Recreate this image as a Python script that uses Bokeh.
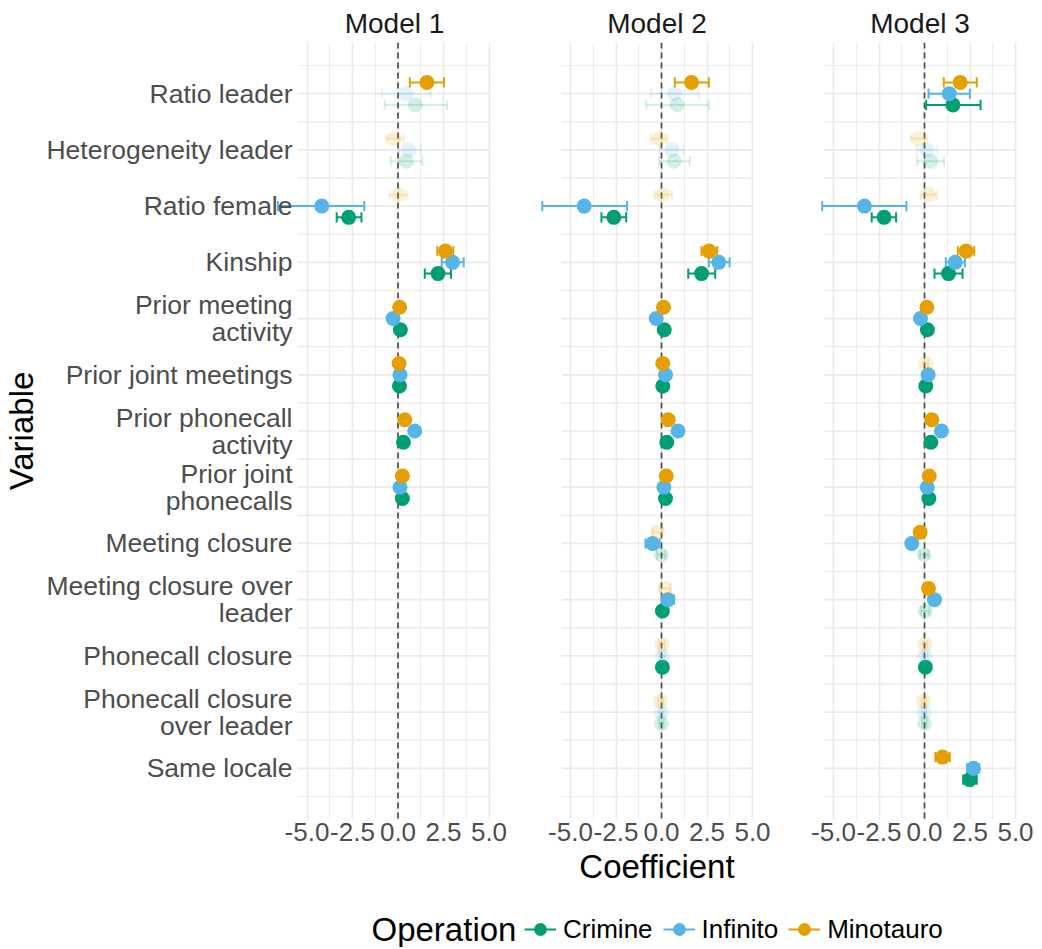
import math
from bokeh.plotting import figure
from bokeh.models import (ColumnDataSource, FactorRange, Range1d, FixedTicker,
                          PrintfTickFormatter, Span, Legend, LegendItem, Label)
from bokeh.transform import dodge
from bokeh.layouts import row, column
from bokeh.embed import file_html
from bokeh.resources import INLINE

# ---------------- data ----------------
variables = ["Ratio leader", "Heterogeneity leader", "Ratio female", "Kinship",
             "Prior meeting\nactivity", "Prior joint meetings",
             "Prior phonecall\nactivity", "Prior joint\nphonecalls",
             "Meeting closure", "Meeting closure over\nleader",
             "Phonecall closure", "Phonecall closure\nover leader", "Same locale"]
models = ["Model 1", "Model 2", "Model 3"]
operations = ["Crimine", "Infinito", "Minotauro"]
x_ticks = [-5.0, -2.5, 0.0, 2.5, 5.0]
x_minor = [-3.75, -1.25, 1.25, 3.75]
N = None

# Model 1
m1_crimine_est = [0.95, 0.46, -2.71, 2.20, 0.13, 0.08, 0.30, 0.24, N, N, N, N, N]
m1_crimine_lo = [-0.73, -0.40, -3.37, 1.47, 0.03, 0.01, 0.18, 0.12, N, N, N, N, N]
m1_crimine_hi = [2.69, 1.34, -2.01, 2.91, 0.23, 0.15, 0.42, 0.36, N, N, N, N, N]
m1_crimine_sig = [0, 0, 1, 1, 1, 1, 1, 1, 0, 0, 0, 0, 0]
m1_infinito_est = [0.46, 0.59, -4.19, 3.00, -0.27, 0.11, 0.92, 0.11, N, N, N, N, N]
m1_infinito_lo = [-0.88, 0.02, -6.60, 2.40, -0.40, 0.02, 0.78, 0.02, N, N, N, N, N]
m1_infinito_hi = [1.80, 1.25, -1.85, 3.61, -0.14, 0.20, 1.06, 0.20, N, N, N, N, N]
m1_infinito_sig = [0, 0, 1, 1, 1, 1, 1, 1, 0, 0, 0, 0, 0]
m1_minotauro_est = [1.59, -0.20, 0.04, 2.60, 0.09, 0.06, 0.37, 0.24, N, N, N, N, N]
m1_minotauro_lo = [0.65, -0.64, -0.44, 2.16, 0.00, -0.02, 0.25, 0.13, N, N, N, N, N]
m1_minotauro_hi = [2.53, 0.31, 0.53, 3.04, 0.18, 0.14, 0.49, 0.35, N, N, N, N, N]
m1_minotauro_sig = [1, 0, 0, 1, 1, 1, 1, 1, 0, 0, 0, 0, 0]

# Model 2
m2_crimine_est = [0.86, 0.70, -2.62, 2.20, 0.15, 0.07, 0.29, 0.22, -0.02, 0.05, 0.05, 0.00, N]
m2_crimine_lo = [-0.84, -0.13, -3.30, 1.47, 0.05, 0.00, 0.17, 0.11, -0.25, 0.02, 0.02, -0.12, N]
m2_crimine_hi = [2.60, 1.56, -1.94, 2.95, 0.25, 0.14, 0.41, 0.33, 0.21, 0.08, 0.08, 0.12, N]
m2_crimine_sig = [0, 0, 1, 1, 1, 1, 1, 1, 0, 1, 1, 0, 0]
m2_infinito_est = [0.71, 0.57, -4.25, 3.15, -0.29, 0.22, 0.91, 0.13, -0.49, 0.35, 0.04, 0.00, N]
m2_infinito_lo = [-0.59, -0.10, -6.55, 2.60, -0.42, 0.10, 0.78, 0.02, -0.88, 0.01, -0.10, -0.12, N]
m2_infinito_hi = [2.05, 1.23, -1.89, 3.74, -0.16, 0.34, 1.04, 0.24, -0.10, 0.69, 0.18, 0.12, N]
m2_infinito_sig = [0, 0, 1, 1, 1, 1, 1, 1, 1, 1, 0, 0, 0]
m2_minotauro_est = [1.65, -0.13, 0.07, 2.62, 0.11, 0.07, 0.37, 0.26, -0.22, 0.20, 0.02, -0.04, N]
m2_minotauro_lo = [0.73, -0.60, -0.38, 2.20, 0.02, -0.01, 0.26, 0.16, -0.50, -0.08, -0.14, -0.18, N]
m2_minotauro_hi = [2.60, 0.33, 0.57, 3.06, 0.20, 0.15, 0.48, 0.36, 0.06, 0.48, 0.18, 0.10, N]
m2_minotauro_sig = [1, 0, 0, 1, 1, 1, 1, 1, 0, 0, 0, 0, 0]

# Model 3
m3_crimine_est = [1.56, 0.35, -2.22, 1.32, 0.16, 0.07, 0.35, 0.24, -0.02, 0.04, 0.05, 0.00, 2.49]
m3_crimine_lo = [0.09, -0.40, -2.90, 0.55, 0.05, 0.00, 0.23, 0.13, -0.25, -0.18, 0.02, -0.12, 2.13]
m3_crimine_hi = [3.08, 1.08, -1.56, 2.09, 0.27, 0.14, 0.47, 0.35, 0.21, 0.26, 0.08, 0.12, 2.87]
m3_crimine_sig = [1, 0, 1, 1, 1, 1, 1, 1, 0, 0, 1, 0, 1]
m3_infinito_est = [1.36, 0.13, -3.30, 1.69, -0.22, 0.20, 0.93, 0.15, -0.70, 0.55, 0.04, -0.02, 2.69]
m3_infinito_lo = [0.22, -0.42, -5.62, 1.17, -0.35, 0.08, 0.80, 0.04, -0.95, 0.35, -0.10, -0.14, 2.34]
m3_infinito_hi = [2.49, 0.71, -0.99, 2.22, -0.09, 0.32, 1.06, 0.26, -0.45, 0.75, 0.18, 0.10, 3.00]
m3_infinito_sig = [1, 0, 1, 1, 1, 1, 1, 1, 1, 1, 0, 0, 1]
m3_minotauro_est = [1.96, -0.31, 0.24, 2.29, 0.13, 0.07, 0.40, 0.26, -0.24, 0.22, 0.02, -0.04, 0.99]
m3_minotauro_lo = [1.06, -0.75, -0.20, 1.83, 0.03, -0.05, 0.28, 0.15, -0.36, 0.10, -0.12, -0.16, 0.60]
m3_minotauro_hi = [2.87, 0.16, 0.70, 2.73, 0.23, 0.19, 0.52, 0.37, -0.12, 0.34, 0.16, 0.08, 1.39]
m3_minotauro_sig = [1, 0, 0, 1, 1, 0, 1, 1, 1, 1, 0, 0, 1]

table = {
    "Model 1": {"Crimine": (m1_crimine_est, m1_crimine_lo, m1_crimine_hi, m1_crimine_sig),
                "Infinito": (m1_infinito_est, m1_infinito_lo, m1_infinito_hi, m1_infinito_sig),
                "Minotauro": (m1_minotauro_est, m1_minotauro_lo, m1_minotauro_hi, m1_minotauro_sig)},
    "Model 2": {"Crimine": (m2_crimine_est, m2_crimine_lo, m2_crimine_hi, m2_crimine_sig),
                "Infinito": (m2_infinito_est, m2_infinito_lo, m2_infinito_hi, m2_infinito_sig),
                "Minotauro": (m2_minotauro_est, m2_minotauro_lo, m2_minotauro_hi, m2_minotauro_sig)},
    "Model 3": {"Crimine": (m3_crimine_est, m3_crimine_lo, m3_crimine_hi, m3_crimine_sig),
                "Infinito": (m3_infinito_est, m3_infinito_lo, m3_infinito_hi, m3_infinito_sig),
                "Minotauro": (m3_minotauro_est, m3_minotauro_lo, m3_minotauro_hi, m3_minotauro_sig)},
}

# ---------------- style ----------------
FONT = "Liberation Sans"
COLORS = {"Crimine": "#009E73", "Infinito": "#56B4E9", "Minotauro": "#E69F00"}
OFFSETS = {"Crimine": -0.2, "Infinito": 0.0, "Minotauro": 0.2}
FAINT = 0.17
CAP = 0.09
SCALE = 18.2          # px per coefficient unit
PANEL_LO, PANEL_HI = -5.5, 5.0
GRID = "#EBEBEB"
FRAME_TOP_BORDER = 42
FRAME_H = 777
BOTTOM_BORDER = 80

# (frame_left, frame_right, zero_px, border_left, border_right) in layout px
# frames are centred on the panel centre (-0.25) so that the titles sit above it
geom = {
    "Model 1": (280, 516, 401.5, 272, 0),
    "Model 2": (540, 781, 665.0, 24, 0),
    "Model 3": (823, 1024, 928.0, 42, 16),
}


def make_panel(model, first, with_xlabel):
    fl, fr, z, bl, br = geom[model]
    xr = Range1d(-(z - fl) / SCALE, (fr - z) / SCALE)
    yr = FactorRange(factors=list(reversed(variables)), range_padding=0.41,
                     range_padding_units="absolute")
    kw = {} if first else {"y_axis_location": None}
    p = figure(x_range=xr, y_range=yr, frame_width=fr - fl, frame_height=FRAME_H,
               min_border_left=bl, min_border_right=br, min_border_top=FRAME_TOP_BORDER,
               min_border_bottom=BOTTOM_BORDER, output_backend="svg",
               toolbar_location=None, title=model, **kw)
    p.outline_line_color = None
    p.background_fill_color = "white"
    p.border_fill_color = "white"
    p.title.text_font = FONT
    p.title.text_font_size = "28px"
    p.title.text_font_style = "normal"
    p.title.text_color = "#1A1A1A"
    p.title.align = "center"
    p.title.standoff = 8

    ticker = FixedTicker(ticks=x_ticks, minor_ticks=x_minor)
    ax = p.xaxis[0]
    ax.ticker = ticker
    ax.formatter = PrintfTickFormatter(format="%.1f")
    ax.axis_line_color = None
    ax.major_tick_line_color = None
    ax.minor_tick_line_color = None
    ax.major_tick_out = 0
    ax.minor_tick_out = 0
    ax.major_label_standoff = 3
    ax.major_label_text_font = FONT
    ax.major_label_text_font_size = "26px"
    ax.major_label_text_color = "#4D4D4D"
    if with_xlabel:
        ax.axis_label = "Coefficient"
        ax.axis_label_text_font = FONT
        ax.axis_label_text_font_size = "33px"
        ax.axis_label_text_font_style = "normal"
        ax.axis_label_text_color = "#000000"
        ax.axis_label_standoff = 4

    if first:
        ay = p.yaxis[0]
        ay.axis_line_color = None
        ay.major_tick_line_color = None
        ay.major_tick_out = 0
        ay.major_tick_in = 0
        ay.major_label_standoff = -16
        ay.major_label_text_font = FONT
        ay.major_label_text_font_size = "26.5px"
        ay.major_label_text_color = "#4D4D4D"
        ay.major_label_text_line_height = 0.9
        ay.axis_label = "Variable"
        ay.axis_label_text_font = FONT
        ay.axis_label_text_font_size = "33px"
        ay.axis_label_text_font_style = "normal"
        ay.axis_label_text_color = "#000000"
        ay.axis_label_standoff = 3

    g = p.xgrid[0]
    g.ticker = ticker
    g.grid_line_color = GRID
    g.grid_line_width = 1.7
    g.minor_grid_line_color = GRID
    g.minor_grid_line_width = 0.9
    p.ygrid.visible = False

    gsrc = ColumnDataSource(dict(var=variables))
    for off, w in ((0.0, 1.7), (-0.5, 0.9), (0.5, 0.9)):
        yy = dodge("var", off, range=yr)
        p.segment(x0=PANEL_LO, x1=PANEL_HI, y0=yy, y1=yy, source=gsrc,
                  line_color=GRID, line_width=w, level="underlay")

    p.add_layout(Span(location=0, dimension="height", line_color="#4D4D4D",
                      line_width=1.7, line_dash="6 4", level="underlay"))

    srcs = {}
    for op in operations:
        est, lo, hi, sig = table[model][op]
        keep = [i for i, e in enumerate(est) if e is not None]
        srcs[op] = ColumnDataSource(dict(
            var=[variables[i] for i in keep],
            est=[est[i] for i in keep],
            lo=[lo[i] for i in keep],
            hi=[hi[i] for i in keep],
            alpha=[1.0 if sig[i] else FAINT for i in keep],
        ))

    for op in operations:
        s, c, off = srcs[op], COLORS[op], OFFSETS[op]
        ym = dodge("var", off, range=yr)
        y0 = dodge("var", off - CAP, range=yr)
        y1 = dodge("var", off + CAP, range=yr)
        p.segment(x0="lo", x1="hi", y0=ym, y1=ym, source=s, line_color=c,
                  line_alpha="alpha", line_width=2)
        p.segment(x0="lo", x1="lo", y0=y0, y1=y1, source=s, line_color=c,
                  line_alpha="alpha", line_width=2)
        p.segment(x0="hi", x1="hi", y0=y0, y1=y1, source=s, line_color=c,
                  line_alpha="alpha", line_width=2)
    for op in operations:
        s, c, off = srcs[op], COLORS[op], OFFSETS[op]
        p.scatter(x="est", y=dodge("var", off, range=yr), source=s, size=15,
                  fill_color=c, fill_alpha="alpha", line_color=None)
    return p


p1 = make_panel("Model 1", True, False)
p2 = make_panel("Model 2", False, True)
p3 = make_panel("Model 3", False, False)

# ---------------- legend ----------------
LW, LH = 1016, 48
pleg = figure(width=LW, height=LH, x_range=Range1d(0, LW), y_range=Range1d(0, LH),
              x_axis_location=None, y_axis_location=None, min_border=0,
              toolbar_location=None, output_backend="svg")
pleg.outline_line_color = None
pleg.grid.visible = False
items = []
for op in operations:
    # legend proxies: one undrawn (NaN) record so the legend key is rendered
    seg = pleg.segment(x0=[math.nan], y0=[math.nan], x1=[math.nan], y1=[math.nan],
                       line_color=COLORS[op], line_width=2)
    dot = pleg.scatter(x=[math.nan], y=[math.nan], size=15, fill_color=COLORS[op],
                       line_color=None)
    items.append(LegendItem(label=op, renderers=[seg, dot]))
leg = Legend(items=items, location=(524, 2), orientation="horizontal",
             glyph_width=32, glyph_height=32, label_standoff=7, spacing=10,
             padding=0, margin=0, label_text_font=FONT, label_text_font_size="26px",
             label_text_color="#000000", background_fill_alpha=0,
             border_line_color=None)
pleg.add_layout(leg)
pleg.add_layout(Label(x=371, y=18, text="Operation", text_font=FONT,
                      text_font_size="33px", text_baseline="middle",
                      text_color="#000000"))

layout = column(row(p1, p2, p3), pleg)
open("out.html", "w").write(file_html(layout, INLINE))
